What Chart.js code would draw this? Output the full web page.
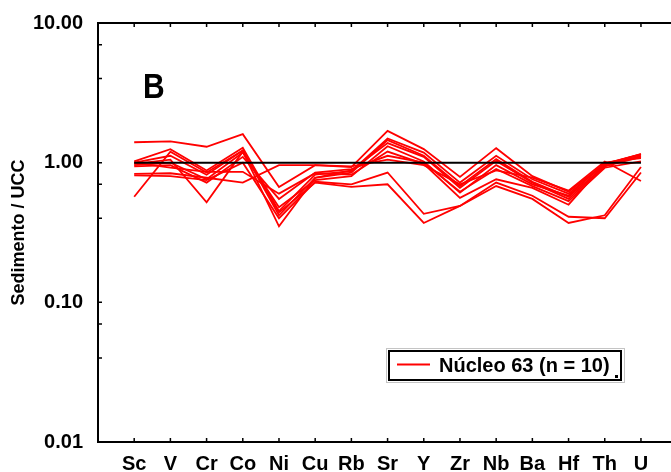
<!DOCTYPE html>
<html>
<head>
<meta charset="utf-8">
<script src="https://cdn.jsdelivr.net/npm/chart.js@4.4.1/dist/chart.umd.min.js"></script>
<style>
  html, body { margin: 0; padding: 0; background: #fff; overflow: hidden; }
  #grafico { display: block; }
</style>
</head>
<body>
<canvas id="grafico" width="671" height="472"></canvas>
<script>
// Elementos (eje X)
const categorias = ['Sc', 'V', 'Cr', 'Co', 'Ni', 'Cu', 'Rb', 'Sr', 'Y', 'Zr', 'Nb', 'Ba', 'Hf', 'Th', 'U'];

// Ticks del eje Y (logarítmico)
const ticksY = [0.01, 0.1, 1, 10];
const ticksMenoresY = [7, 4, 0.7, 0.4, 0.07, 0.04];

// Línea de referencia (Sedimento = UCC)
const ucc = [1, 1, 1, 1, 1, 1, 1, 1, 1, 1, 1, 1, 1, 1, 1];

// Núcleo 63, 10 muestras normalizadas a UCC
const muestra1  = [1.40, 1.42, 1.30, 1.60, 0.67, 0.96, 0.93, 1.69, 1.25, 0.79, 1.27, 0.80, 0.62, 0.98, 1.15];
const muestra2  = [1.02, 1.25, 0.88, 1.28, 0.45, 0.82, 0.87, 1.49, 1.18, 0.72, 1.12, 0.76, 0.60, 0.97, 1.15];
const muestra3  = [1.00, 1.12, 0.82, 1.22, 0.42, 0.78, 0.85, 1.45, 1.12, 0.68, 1.06, 0.73, 0.57, 0.95, 1.12];
const muestra4  = [0.98, 1.05, 0.52, 1.20, 0.35, 0.78, 0.88, 1.38, 1.10, 0.66, 1.03, 0.72, 0.55, 0.94, 1.10];
const muestra5  = [0.96, 1.00, 0.76, 1.18, 0.48, 0.75, 0.80, 1.31, 1.02, 0.61, 0.96, 0.70, 0.58, 1.00, 1.08];
const muestra6  = [0.94, 0.96, 0.72, 1.10, 0.55, 0.85, 0.90, 1.12, 1.00, 0.62, 0.90, 0.68, 0.53, 0.92, 1.02];
const muestra7  = [0.83, 0.84, 0.78, 0.72, 0.96, 0.96, 0.94, 1.05, 0.96, 0.70, 0.88, 0.78, 0.63, 1.02, 0.74];
const muestra8  = [0.81, 0.80, 0.75, 1.00, 0.40, 0.73, 0.70, 0.85, 0.43, 0.49, 0.68, 0.55, 0.37, 0.42, 0.93];
const muestra9  = [0.57, 1.20, 0.85, 1.22, 0.44, 0.72, 0.67, 0.70, 0.37, 0.49, 0.72, 0.58, 0.41, 0.40, 0.85];
const muestra10 = [1.00, 0.92, 0.86, 0.86, 0.60, 0.84, 0.82, 1.20, 0.98, 0.56, 0.76, 0.66, 0.50, 0.98, 1.14];

const muestras = [muestra1, muestra2, muestra3, muestra4, muestra5, muestra6, muestra7, muestra8, muestra9, muestra10];
const etiquetaLeyenda = 'Núcleo 63 (n = 10)';
const letraPanel = 'B';

const fuente = '"Liberation Sans", Arial, sans-serif';
const rojo = '#ff0000';

// Pasar cada serie a puntos {x, y}
const aPuntos = serie => serie.map((v, i) => ({ x: i, y: v }));

const datasets = [{
    label: 'UCC',
    data: aPuntos(ucc),
    borderColor: '#000',
    borderWidth: 2,
    pointRadius: 0,
    order: 0
}];
muestras.forEach((serie, i) => {
    datasets.push({
        label: etiquetaLeyenda,
        data: aPuntos(serie),
        borderColor: rojo,
        borderWidth: 1.8,
        pointRadius: 0,
        tension: 0,
        order: 1
    });
});

// Ejes con ticks hacia adentro, letra del panel y leyenda
const ejes = {
    id: 'ejes',
    afterDraw(chart) {
        const { ctx, chartArea: a, scales: { x, y } } = chart;
        ctx.save();
        ctx.strokeStyle = '#000';
        ctx.lineWidth = 2;
        ctx.beginPath();
        ctx.moveTo(chart.width, a.top);
        ctx.lineTo(a.left, a.top);
        ctx.lineTo(a.left, a.bottom);
        ctx.lineTo(chart.width, a.bottom);
        ctx.stroke();

        ctx.lineWidth = 1.5;
        ctx.beginPath();
        categorias.forEach((c, i) => {
            const px = x.getPixelForValue(i);
            ctx.moveTo(px, a.top);
            ctx.lineTo(px, a.top + 4);
            ctx.moveTo(px, a.bottom);
            ctx.lineTo(px, a.bottom - 4);
        });
        ticksY.concat(ticksMenoresY).forEach(v => {
            const py = y.getPixelForValue(v);
            ctx.moveTo(a.left, py);
            ctx.lineTo(a.left + 4, py);
        });
        ctx.stroke();

        // Letra del panel
        ctx.fillStyle = '#000';
        ctx.font = 'bold 30px ' + fuente;
        ctx.textBaseline = 'alphabetic';
        ctx.save();
        ctx.translate(143, 98);
        ctx.scale(1, 1.15);
        ctx.fillText(letraPanel, 0, 0);
        ctx.restore();

        // Leyenda
        ctx.lineWidth = 1;
        ctx.strokeStyle = '#888';
        ctx.setLineDash([1, 1]);
        ctx.strokeRect(386.5, 348.5, 238, 34);
        ctx.setLineDash([]);
        ctx.lineWidth = 2;
        ctx.strokeStyle = '#000';
        ctx.strokeRect(389, 351, 232, 29);
        ctx.strokeStyle = chart.data.datasets[1].borderColor;
        ctx.beginPath();
        ctx.moveTo(397, 364.5);
        ctx.lineTo(430, 364.5);
        ctx.stroke();
        ctx.font = 'bold 20px ' + fuente;
        ctx.textBaseline = 'middle';
        ctx.fillText(chart.data.datasets[1].label, 439, 366);
        ctx.fillRect(615, 375, 3, 3);
        ctx.restore();
    }
};

const ctx = document.getElementById('grafico');
new Chart(ctx, {
    type: 'line',
    data: { datasets: datasets },
    options: {
        responsive: false,
        animation: false,
        layout: { padding: { top: 23, right: 0, bottom: 0, left: 0 } },
        plugins: {
            legend: { display: false },
            tooltip: { enabled: false }
        },
        scales: {
            x: {
                type: 'linear',
                min: -1,
                max: 14.83,
                grid: { display: false },
                border: { display: false },
                afterBuildTicks: s => { s.ticks = categorias.map((c, i) => ({ value: i })); },
                afterFit: s => { s.height = 30; },
                ticks: {
                    autoSkip: false,
                    maxRotation: 0,
                    padding: 2,
                    color: '#000',
                    font: { family: fuente, weight: 'bold', size: 20 },
                    callback: v => categorias[v]
                }
            },
            y: {
                type: 'logarithmic',
                min: 0.01,
                max: 10,
                grid: { display: false },
                border: { display: false },
                afterBuildTicks: s => { s.ticks = ticksY.map(v => ({ value: v })); },
                afterFit: s => { s.width = 98; },
                ticks: {
                    padding: 7,
                    color: '#000',
                    font: { family: fuente, weight: 'bold', size: 20 },
                    callback: v => Number(v).toFixed(2)
                },
                title: {
                    display: true,
                    text: 'Sedimento / UCC',
                    color: '#000',
                    font: { family: fuente, weight: 'bold', size: 18 },
                    padding: { top: 8, bottom: 0 }
                }
            }
        }
    },
    plugins: [ejes]
});
</script>
</body>
</html>
